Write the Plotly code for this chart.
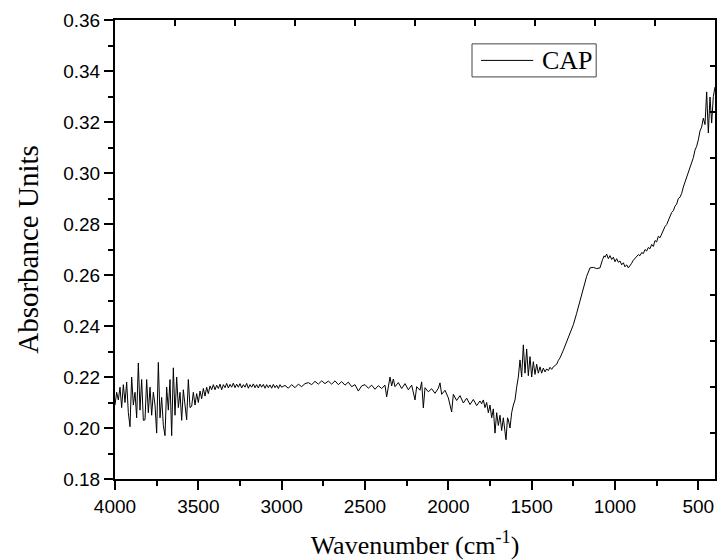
import plotly.graph_objects as go

wavenumber = [
    4000, 3990, 3980, 3970, 3960, 3950, 3940, 3930, 3920, 3910, 3900, 3890, 3880, 3870, 3860,
    3850, 3840, 3830, 3820, 3810, 3800, 3790, 3780, 3770, 3760, 3750, 3740, 3730, 3720, 3710,
    3700, 3690, 3680, 3670, 3660, 3650, 3640, 3630, 3620, 3610, 3600, 3590, 3580, 3570, 3560,
    3550, 3540, 3530, 3520, 3510, 3500, 3490, 3480, 3470, 3460, 3450, 3440, 3430, 3420, 3410,
    3400, 3390, 3380, 3370, 3360, 3350, 3340, 3330, 3320, 3310, 3300, 3290, 3280, 3270, 3260,
    3250, 3240, 3230, 3220, 3210, 3200, 3190, 3180, 3170, 3160, 3150, 3140, 3130, 3120, 3110,
    3100, 3090, 3080, 3070, 3060, 3050, 3040, 3030, 3020, 3010, 3000, 2980, 2960, 2940, 2920,
    2900, 2880, 2860, 2840, 2820, 2800, 2780, 2760, 2740, 2720, 2700, 2680, 2660, 2640, 2620,
    2600, 2580, 2560, 2540, 2520, 2500, 2480, 2460, 2440, 2420, 2400, 2380, 2370, 2360, 2350,
    2340, 2330, 2320, 2300, 2280, 2260, 2240, 2220, 2200, 2190, 2170, 2160, 2150, 2140, 2120,
    2100, 2080, 2060, 2050, 2040, 2020, 2000, 1980, 1970, 1950, 1930, 1910, 1890, 1870, 1850,
    1830, 1810, 1800, 1790, 1780, 1770, 1760, 1750, 1740, 1730, 1720, 1710, 1700, 1690, 1680,
    1670, 1660, 1654, 1645, 1640, 1630, 1620, 1610, 1600, 1590, 1580, 1570, 1560, 1550, 1540,
    1530, 1520, 1510, 1500, 1490, 1480, 1470, 1460, 1450, 1440, 1430, 1420, 1410, 1400, 1390,
    1380, 1370, 1360, 1350, 1340, 1330, 1310, 1290, 1270, 1250, 1230, 1210, 1190, 1170, 1150,
    1130, 1110, 1090, 1075, 1065, 1060, 1050, 1040, 1030, 1020, 1010, 1000, 990, 980, 970,
    960, 950, 940, 930, 920, 910, 900, 890, 880, 870, 860, 850, 840, 830, 820,
    810, 800, 790, 780, 770, 760, 750, 740, 730, 720, 710, 700, 690, 680, 670,
    660, 650, 640, 630, 620, 610, 600, 590, 580, 570, 560, 550, 540, 530, 520,
    510, 500, 490, 480, 470, 460, 450, 440, 430, 420, 410, 400,
]

absorbance = [
    0.2090, 0.2140, 0.2110, 0.2160, 0.2080, 0.2170, 0.2100, 0.2180, 0.2060, 0.2005, 0.2200, 0.2090, 0.2140, 0.2040, 0.2255,
    0.2070, 0.2190, 0.2030, 0.2032, 0.2190, 0.2060, 0.2160, 0.2050, 0.2140, 0.2090, 0.1980, 0.2257, 0.2040, 0.2120, 0.2010,
    0.1970, 0.2160, 0.2070, 0.2190, 0.1970, 0.2236, 0.2050, 0.2200, 0.2080, 0.2140, 0.2030, 0.2150, 0.2090, 0.2032, 0.2190,
    0.2080, 0.2085, 0.2140, 0.2090, 0.2135, 0.2100, 0.2145, 0.2115, 0.2155, 0.2125, 0.2160, 0.2135, 0.2165, 0.2150, 0.2170,
    0.2150, 0.2168, 0.2155, 0.2172, 0.2150, 0.2170, 0.2158, 0.2175, 0.2157, 0.2171, 0.2160, 0.2176, 0.2158, 0.2172, 0.2160,
    0.2174, 0.2157, 0.2170, 0.2160, 0.2175, 0.2156, 0.2170, 0.2160, 0.2173, 0.2158, 0.2170, 0.2157, 0.2172, 0.2160, 0.2171,
    0.2156, 0.2170, 0.2158, 0.2169, 0.2156, 0.2171, 0.2158, 0.2168, 0.2155, 0.2170, 0.2160, 0.2167, 0.2156, 0.2170, 0.2158,
    0.2172, 0.2162, 0.2174, 0.2178, 0.2170, 0.2183, 0.2172, 0.2185, 0.2174, 0.2184, 0.2172, 0.2185, 0.2170, 0.2182, 0.2168,
    0.2180, 0.2162, 0.2170, 0.2145, 0.2165, 0.2170, 0.2156, 0.2168, 0.2152, 0.2166, 0.2155, 0.2168, 0.2122, 0.2172, 0.2200,
    0.2165, 0.2192, 0.2162, 0.2178, 0.2155, 0.2174, 0.2150, 0.2168, 0.2110, 0.2162, 0.2148, 0.2181, 0.2079, 0.2158, 0.2142,
    0.2154, 0.2136, 0.2156, 0.2177, 0.2132, 0.2148, 0.2118, 0.2063, 0.2132, 0.2108, 0.2127, 0.2098, 0.2117, 0.2092, 0.2112,
    0.2088, 0.2106, 0.2095, 0.2110, 0.2080, 0.2100, 0.2060, 0.2090, 0.2040, 0.2075, 0.1980, 0.2060, 0.2010, 0.2050, 0.1990,
    0.2040, 0.1985, 0.1954, 0.2040, 0.2033, 0.2000, 0.2060, 0.2090, 0.2110, 0.2160, 0.2200, 0.2267, 0.2200, 0.2326, 0.2215,
    0.2310, 0.2205, 0.2280, 0.2200, 0.2260, 0.2210, 0.2250, 0.2215, 0.2240, 0.2215, 0.2235, 0.2220, 0.2232, 0.2225, 0.2238,
    0.2230, 0.2240, 0.2245, 0.2250, 0.2265, 0.2275, 0.2305, 0.2340, 0.2370, 0.2405, 0.2450, 0.2500, 0.2550, 0.2595, 0.2628,
    0.2630, 0.2625, 0.2628, 0.2660, 0.2675, 0.2670, 0.2682, 0.2664, 0.2676, 0.2661, 0.2670, 0.2652, 0.2664, 0.2650, 0.2655,
    0.2640, 0.2648, 0.2632, 0.2640, 0.2628, 0.2636, 0.2646, 0.2658, 0.2665, 0.2674, 0.2680, 0.2676, 0.2688, 0.2684, 0.2700,
    0.2694, 0.2708, 0.2703, 0.2720, 0.2712, 0.2735, 0.2730, 0.2752, 0.2746, 0.2762, 0.2775, 0.2790, 0.2798, 0.2815, 0.2825,
    0.2845, 0.2852, 0.2870, 0.2878, 0.2900, 0.2905, 0.2920, 0.2945, 0.2965, 0.2978, 0.3000, 0.3022, 0.3045, 0.3060, 0.3090,
    0.3105, 0.3130, 0.3165, 0.3180, 0.3215, 0.3190, 0.3318, 0.3157, 0.3298, 0.3196, 0.3300, 0.3337,
]

series_name = "CAP"
x_title = "Wavenumber (cm<sup>-1</sup>)"
y_title = "Absorbance Units"

SERIF = "Liberation Serif, Times New Roman, serif"
SANS = "Liberation Sans, Arial, sans-serif"

fig = go.Figure()
fig.add_trace(go.Scatter(
    x=wavenumber, y=absorbance, mode="lines", name=series_name,
    line=dict(color="black", width=1), showlegend=False,
))
# helper trace for the mirrored (top/right) axes
fig.add_trace(go.Scatter(x=[None], y=[None], xaxis="x2", yaxis="y2",
                         showlegend=False, hoverinfo="skip"))

# legend box drawn in paper coordinates
fig.add_shape(type="rect", xref="paper", yref="paper",
              x0=0.595, x1=0.802, y0=0.876, y1=0.948,
              line=dict(color="#444", width=1), fillcolor="white")
fig.add_shape(type="line", xref="paper", yref="paper",
              x0=0.610, x1=0.697, y0=0.912, y1=0.912,
              line=dict(color="black", width=1))
fig.add_annotation(xref="paper", yref="paper", x=0.708, y=0.912,
                   xanchor="left", yanchor="middle", showarrow=False,
                   text=series_name,
                   font=dict(family=SERIF, size=26, color="black"))

fig.update_layout(
    width=718, height=560,
    margin=dict(l=115, r=3, t=20, b=81),
    paper_bgcolor="white", plot_bgcolor="white",
    showlegend=False,
    xaxis=dict(
        range=[4000, 400], tick0=0, dtick=500, automargin=False,
        ticks="outside", ticklen=9, tickwidth=2, tickcolor="black",
        minor=dict(dtick=250, ticks="outside", ticklen=5, tickwidth=2, tickcolor="black"),
        showline=True, linewidth=2, linecolor="black",
        showgrid=False, zeroline=False,
        tickfont=dict(family=SANS, size=19, color="black"),
        title=dict(text=x_title, font=dict(family=SERIF, size=26, color="black"), standoff=22),
    ),
    yaxis=dict(
        range=[0.18, 0.36], tick0=0, dtick=0.02, tickformat=".2f", automargin=False,
        ticks="outside", ticklen=9, tickwidth=2, tickcolor="black",
        minor=dict(dtick=0.01, ticks="outside", ticklen=5, tickwidth=2, tickcolor="black"),
        showline=True, linewidth=2, linecolor="black",
        showgrid=False, zeroline=False,
        tickfont=dict(family=SANS, size=19, color="black"),
        title=dict(text=y_title, font=dict(family=SERIF, size=29, color="black"), standoff=16),
    ),
    xaxis2=dict(
        overlaying="x", side="top", range=[0, 10], dtick=1, automargin=False,
        ticks="inside", ticklen=6, tickwidth=2, tickcolor="black",
        showticklabels=False, showline=True, linewidth=2, linecolor="black",
        showgrid=False, zeroline=False,
    ),
    yaxis2=dict(
        overlaying="y", side="right", range=[0, 10], dtick=1, automargin=False,
        ticks="inside", ticklen=5, tickwidth=2, tickcolor="black",
        showticklabels=False, showline=True, linewidth=2, linecolor="black",
        showgrid=False, zeroline=False,
    ),
)

fig.write_html("out.html", config={"displayModeBar": False},
               post_script="document.body.style.margin='0';")
